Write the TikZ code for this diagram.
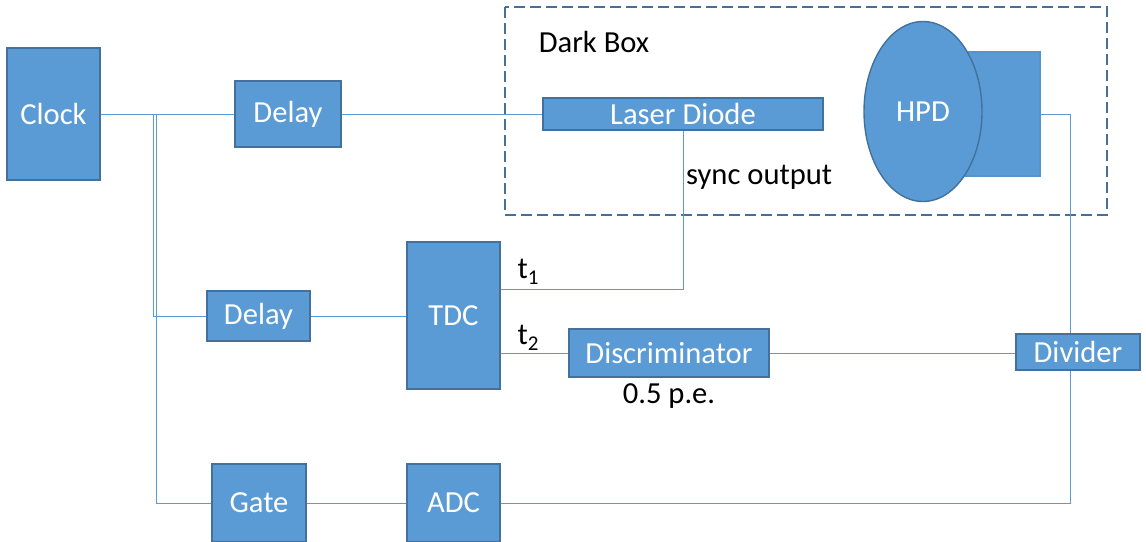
\documentclass[tikz,border=0pt]{standalone}
\usepackage{fontspec}
\setmainfont{Carlito}
\usetikzlibrary{shapes.geometric}
\definecolor{boxfill}{HTML}{5B9BD5}
\definecolor{boxedge}{HTML}{41719C}
\begin{document}
\begin{tikzpicture}[x=1pt,y=-1pt,
  txt/.style={font=\fontsize{30.6}{36}\selectfont},
  blk/.style={draw=boxedge, fill=boxfill, line width=1.4pt, text=white, inner sep=0pt, txt},
  wire/.style={draw=boxfill, line width=0.9pt},
  lbl/.style={text=black, inner sep=0pt, txt}]
\useasboundingbox (0,0) rectangle (1146,541);

% enclosure
\draw[boxedge, line width=2.8pt, dash pattern=on 11pt off 5pt] (505,7) rectangle (1107,215);
\node[lbl] (darklbl) at (594,42) {Dark Box};

% detector: base block behind the tube
\node[blk, draw=boxfill!80!boxedge, minimum width=75pt, minimum height=124pt] (hpdbox) at (1002.5,114) {};
\node[blk, ellipse, minimum width=118pt, minimum height=180pt] (hpd) at (923,111.5) {HPD};

% blocks
\node[blk, minimum width=93pt, minimum height=132pt] (clock) at (53.5,114) {Clock};
\node[blk, minimum width=106pt, minimum height=66pt] (delayA) at (288,114) {Delay};
\node[blk, minimum width=280pt, minimum height=32pt] (laser) at (683,114) {Laser Diode};
\node[blk, minimum width=103pt, minimum height=50pt] (delayB) at (258.5,316) {Delay};
\node[blk, minimum width=93pt, minimum height=147pt] (tdc) at (453.5,315.5) {TDC};
\node[blk, minimum width=200pt, minimum height=48pt] (disc) at (669,353) {Discriminator};
\node[blk, minimum width=124pt, minimum height=36pt] (divider) at (1078,352) {Divider};
\node[blk, minimum width=94pt, minimum height=78pt] (gate) at (259,503) {Gate};
\node[blk, minimum width=93pt, minimum height=78pt] (adc) at (453.5,503) {ADC};

% labels
\node[lbl, anchor=west] (synclbl) at (686,177) {sync output};
\node[lbl] (tonelbl) at (528,272) {t\raisebox{-0.4ex}{\fontsize{21}{24}\selectfont 1}};
\node[lbl] (ttwolbl) at (528,338) {t\raisebox{-0.4ex}{\fontsize{21}{24}\selectfont 2}};
\node[lbl] (thrlbl) at (669,396) {0.5 p.e.};

% connections
\coordinate (splitA) at (153,114);
\coordinate (splitB) at (156,114);
\draw[wire] (clock.east) -- (delayA.west);
\draw[wire] (delayA.east) -- (laser.west);
\draw[wire] (splitA) |- (delayB.west);
\draw[wire] (splitB) |- (gate.west);
\draw[wire] (delayB.east) -- (tdc.west |- delayB.east);
\draw[wire] ([yshift=-48.5pt]tdc.north east) -| (laser.south);
\draw[wire] (tdc.east |- disc.west) -- (disc.west);
\draw[wire] (disc.east) -- (divider.west |- disc.east);
\draw[wire] (hpdbox.east) -| ([xshift=-8pt]divider.north);
\draw[wire] ([xshift=-8pt]divider.south) |- (adc.east);
\draw[wire] (gate.east) -- (adc.west);
\end{tikzpicture}
\end{document}
